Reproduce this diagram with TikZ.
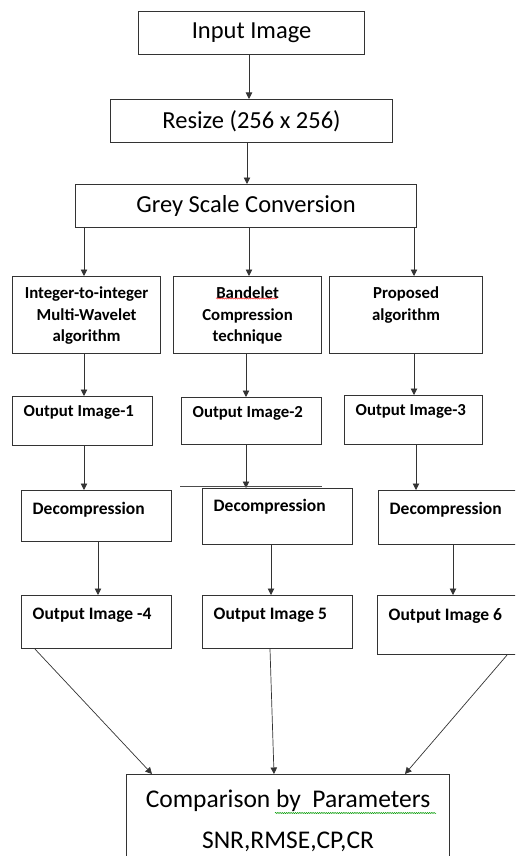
\documentclass[tikz,border=0pt]{standalone}
\usepackage{fontspec}
\setmainfont{Carlito}
\usetikzlibrary{arrows.meta,decorations.pathmorphing}

\begin{document}
\begin{tikzpicture}[x=1pt, y=-1pt,
	box/.style={draw=black!80, line width=1.1pt, anchor=north west, inner sep=0pt},
	big/.style={font=\fontsize{24.5}{29}\selectfont},
	tag/.style={anchor=north west, inner sep=0pt, xshift=11.5pt, yshift=-#1},
	tag/.default=9pt,
	algtag/.style={anchor=north, inner sep=0pt, yshift=-11pt, align=center, font=\fontsize{16.8}{21.5}\selectfont\bfseries},
	small/.style={font=\fontsize{16.8}{20}\selectfont\bfseries},
	lower/.style={font=\fontsize{17.5}{20}\selectfont\bfseries},
	flow/.style={draw=black!80, line width=0.9pt, -{Triangle[length=6.5pt,width=6.5pt]}},
	wavy/.style={decorate, decoration={snake, segment length=2.2pt, amplitude=0.6pt}, line width=0.5pt}]
	\useasboundingbox (0,0) rectangle (515,856);
	\clip (0,0) rectangle (515,856);
	\node[box, big, minimum width=226pt, minimum height=43pt] (input) at (138,11) {Input Image};
	\node[box, big, minimum width=282pt, minimum height=43pt] (resize) at (110,99) {Resize (256 x 256)};
	\node[box, big, minimum width=341pt, minimum height=43pt] (grey) at (75,184) {Grey Scale Conversion};
	\node[box, minimum width=148pt, minimum height=77pt, label={[algtag]north:Integer-to-integer\\Multi-Wavelet\\algorithm}] (alg1) at (12,276) {};
	\node[box, minimum width=148pt, minimum height=77pt, label={[algtag]north:Bandelet\\Compression\\technique}] (alg2) at (173,276) {};
	\node[box, minimum width=153pt, minimum height=77pt, label={[algtag]north:Proposed\\algorithm}] (alg3) at (329,276) {};
	\node[box, minimum width=140pt, minimum height=49pt, label={[tag, small]north west:Output Image-1}] (out1) at (12,396) {};
	\node[box, minimum width=140pt, minimum height=47pt, label={[tag, small]north west:Output Image-2}] (out2) at (181,397) {};
	\node[box, minimum width=138pt, minimum height=49pt, label={[tag, small]north west:Output Image-3}] (out3) at (344,395) {};
	\node[box, minimum width=150pt, minimum height=51pt, label={[tag=12pt, lower]north west:Decompression}] (dec1) at (21,490) {};
	\node[box, minimum width=150pt, minimum height=56pt, label={[tag=11pt, lower]north west:Decompression}] (dec2) at (202,488) {};
	\node[box, minimum width=150pt, minimum height=54pt, label={[tag=12pt, lower]north west:Decompression}] (dec3) at (378,490) {};
	\node[box, minimum width=150pt, minimum height=53pt, label={[tag=13pt, lower]north west:Output Image -4}] (out4) at (21,595) {};
	\node[box, minimum width=150pt, minimum height=53pt, label={[tag=13pt, lower]north west:Output Image 5}] (out5) at (202,595) {};
	\node[box, minimum width=150pt, minimum height=59pt, label={[tag=13pt, lower]north west:Output Image 6}] (out6) at (377,595) {};
	\node[box, align=center, font=\fontsize{25.5}{41}\selectfont, minimum width=323pt, minimum height=92pt] (comp) at (126,774) {Comparison by\ \ Parameters\\SNR,RMSE,CP,CR};
	\draw[flow] (249,0 |- input.south) -- (249,0 |- resize.north);
	\draw[flow] (247,0 |- resize.south) -- (247,0 |- grey.north);
	\draw[flow] (84,0 |- grey.south) -- (84,0 |- alg1.north);
	\draw[flow] (249,0 |- grey.south) -- (249,0 |- alg2.north);
	\draw[flow] (414,0 |- grey.south) -- (414,0 |- alg3.north);
	\draw[flow] (84,0 |- alg1.south) -- (84,0 |- out1.north);
	\draw[flow] (246,0 |- alg2.south) -- (246,0 |- out2.north);
	\draw[flow] (414,0 |- alg3.south) -- (414,0 |- out3.north);
	\draw[flow] (84,0 |- out1.south) -- (84,0 |- dec1.north);
	\draw[flow] (246,0 |- out2.south) -- (246,0 |- dec2.north);
	\draw[flow] (416,0 |- out3.south) -- (416,0 |- dec3.north);
	\draw[flow] (98,0 |- dec1.south) -- (98,0 |- out4.north);
	\draw[flow] (271,0 |- dec2.south) -- (271,0 |- out5.north);
	\draw[flow] (453,0 |- dec3.south) -- (453,0 |- out6.north);
	\draw[flow, line width=0.7pt] (35,0 |- out4.south) -- (152,0 |- comp.north);
	\draw[flow, line width=0.7pt] (270,0 |- out5.south) -- (274,0 |- comp.north);
	\draw[flow, line width=0.7pt] (507,0 |- out6.south) -- (405,0 |- comp.north);
	\draw[black!70, line width=0.8pt] (180,486) -- (322,486);
	\draw[wavy, red!80] (216,298.5) -- (277,298.5);
	\draw[wavy, green!60!black] (275,813) -- (436,813);
\end{tikzpicture}
\end{document}
